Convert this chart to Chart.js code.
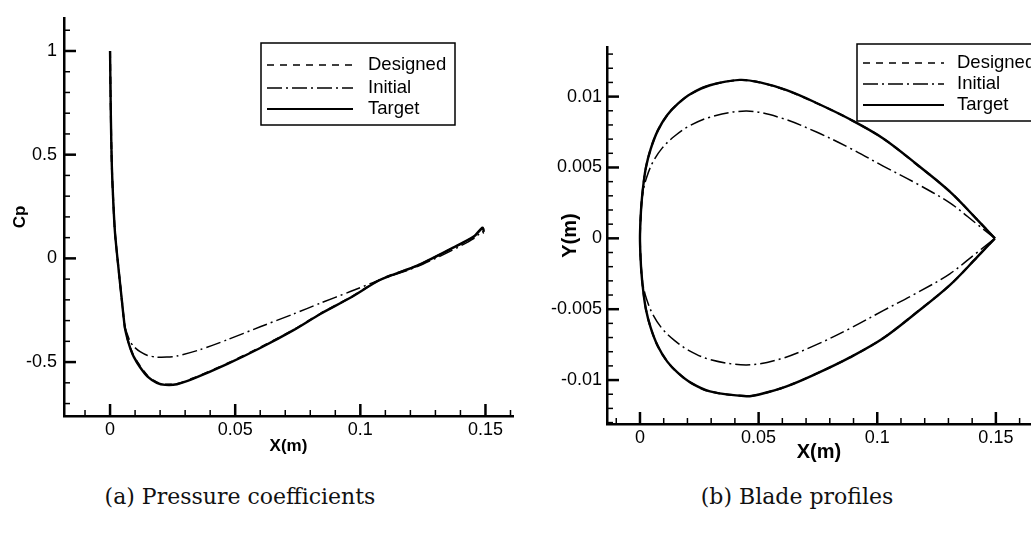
<!DOCTYPE html>
<html>
<head>
<meta charset="utf-8">
<script src="https://cdn.jsdelivr.net/npm/chart.js@4.4.0/dist/chart.umd.min.js"></script>
<style>
  body { margin: 0; background: #fff; width: 1031px; height: 539px; overflow: hidden; position: relative; }
  #cpChart { position: absolute; left: 0; top: 0; }
  #bladeChart { position: absolute; left: 530px; top: 0; }
  .caption { position: absolute; top: 484px; font-family: "DejaVu Serif", "Liberation Serif", serif; font-size: 22px; color: #111; transform: translateX(-50%); white-space: nowrap; }
</style>
</head>
<body>
<canvas id="cpChart" width="520" height="470"></canvas>
<canvas id="bladeChart" width="501" height="470"></canvas>
<div class="caption" style="left:240px">(a) Pressure coefficients</div>
<div class="caption" style="left:797px">(b) Blade profiles</div>
<script>
// series names (legend order)
const seriesNames = ['Designed', 'Initial', 'Target'];

// (a) pressure coefficient along the chord
const cpTargetX   = [0, 0.0003, 0.0007, 0.0013, 0.002, 0.0033, 0.0047, 0.0053, 0.006, 0.007, 0.008, 0.0095, 0.012, 0.015, 0.0187, 0.022, 0.0267, 0.0333, 0.0467, 0.06, 0.0733, 0.084, 0.096, 0.108, 0.1227, 0.136, 0.1453, 0.1487, 0.1492, 0.1493];
const cpTargetY   = [1.0, 0.70, 0.45, 0.27, 0.12, -0.04, -0.20, -0.27, -0.34, -0.39, -0.43, -0.475, -0.525, -0.57, -0.60, -0.61, -0.607, -0.58, -0.51, -0.432, -0.346, -0.268, -0.19, -0.103, -0.035, 0.045, 0.105, 0.148, 0.14, 0.128];
const cpDesignedX = [0, 0.0003, 0.0007, 0.0013, 0.002, 0.0033, 0.0047, 0.0053, 0.006, 0.007, 0.008, 0.0095, 0.012, 0.015, 0.0187, 0.022, 0.0267, 0.0333, 0.0467, 0.06, 0.0733, 0.084, 0.096, 0.108, 0.1227, 0.136, 0.1453, 0.1487, 0.1492, 0.1493];
const cpDesignedY = [1.0, 0.70, 0.45, 0.27, 0.12, -0.04, -0.20, -0.27, -0.34, -0.39, -0.43, -0.473, -0.52, -0.567, -0.598, -0.608, -0.605, -0.578, -0.508, -0.43, -0.345, -0.267, -0.189, -0.102, -0.035, 0.044, 0.104, 0.146, 0.138, 0.126];
const cpInitialX  = [0, 0.0003, 0.0007, 0.0013, 0.002, 0.0033, 0.0047, 0.0053, 0.006, 0.007, 0.008, 0.0095, 0.012, 0.015, 0.0187, 0.0227, 0.0267, 0.036, 0.0467, 0.06, 0.0733, 0.084, 0.096, 0.108, 0.1227, 0.136, 0.1453, 0.1487, 0.1493];
const cpInitialY  = [1.0, 0.70, 0.45, 0.27, 0.12, -0.04, -0.20, -0.27, -0.33, -0.37, -0.40, -0.425, -0.45, -0.468, -0.476, -0.476, -0.471, -0.44, -0.393, -0.33, -0.268, -0.216, -0.16, -0.103, -0.04, 0.035, 0.095, 0.13, 0.12];

// (b) blade profiles, upper and lower surfaces from leading to trailing edge
const targetUpX   = [0, 0.0002, 0.0006, 0.0013, 0.0025, 0.0045, 0.0075, 0.0115, 0.016, 0.0215, 0.0295, 0.0421, 0.0506, 0.0618, 0.0744, 0.0885, 0.1025, 0.1166, 0.1306, 0.1419, 0.1496];
const targetUpY   = [0, 0.0012, 0.0024, 0.0036, 0.0050, 0.0063, 0.0076, 0.0087, 0.0095, 0.0102, 0.0108, 0.01118, 0.0110, 0.01045, 0.00955, 0.0084, 0.00705, 0.00523, 0.0033, 0.00136, 0];
const targetLoX   = [0, 0.0002, 0.0006, 0.0013, 0.0025, 0.0045, 0.0075, 0.0115, 0.016, 0.0215, 0.0295, 0.0449, 0.0506, 0.0618, 0.0744, 0.0885, 0.1025, 0.1166, 0.1306, 0.1419, 0.1496];
const targetLoY   = [0, -0.0012, -0.0024, -0.0036, -0.0050, -0.0063, -0.0076, -0.0087, -0.0095, -0.0102, -0.0108, -0.01114, -0.0110, -0.01045, -0.00955, -0.0084, -0.00705, -0.00523, -0.0033, -0.00136, 0];
const designedUpX = [0, 0.0002, 0.0006, 0.0013, 0.0025, 0.0045, 0.0075, 0.0115, 0.016, 0.0215, 0.0295, 0.0421, 0.0506, 0.0618, 0.0744, 0.0885, 0.1025, 0.1166, 0.1306, 0.1419, 0.1496];
const designedUpY = [0, 0.0012, 0.0024, 0.0036, 0.0050, 0.0063, 0.0076, 0.0087, 0.0095, 0.0102, 0.0108, 0.01117, 0.0110, 0.01044, 0.00954, 0.0084, 0.00704, 0.00522, 0.0033, 0.00136, 0];
const designedLoX = [0, 0.0002, 0.0006, 0.0013, 0.0025, 0.0045, 0.0075, 0.0115, 0.016, 0.0215, 0.0295, 0.0449, 0.0506, 0.0618, 0.0744, 0.0885, 0.1025, 0.1166, 0.1306, 0.1419, 0.1496];
const designedLoY = [0, -0.0012, -0.0024, -0.0036, -0.0050, -0.0063, -0.0076, -0.0087, -0.0095, -0.0102, -0.0108, -0.01113, -0.0110, -0.01044, -0.00954, -0.0084, -0.00704, -0.00522, -0.0033, -0.00136, 0];
const initialUpX  = [0, 0.0002, 0.0006, 0.0013, 0.0028, 0.0055, 0.0095, 0.0145, 0.0205, 0.0295, 0.0449, 0.059, 0.0744, 0.0885, 0.1025, 0.1166, 0.1306, 0.1419, 0.1496];
const initialUpY  = [0, 0.0012, 0.0023, 0.0033, 0.0043, 0.0054, 0.0064, 0.0072, 0.0079, 0.00855, 0.00898, 0.00852, 0.0075, 0.00636, 0.0051, 0.00386, 0.0025, 0.00102, 0];
const initialLoX  = [0, 0.0002, 0.0006, 0.0013, 0.0028, 0.0055, 0.0095, 0.0145, 0.0205, 0.0295, 0.0449, 0.059, 0.0744, 0.0885, 0.1025, 0.1166, 0.1306, 0.1419, 0.1496];
const initialLoY  = [0, -0.0012, -0.0023, -0.0033, -0.0043, -0.0054, -0.0064, -0.0072, -0.0079, -0.00855, -0.00893, -0.00852, -0.0075, -0.00636, -0.0051, -0.00386, -0.0025, -0.00102, 0];

// line styles per series
const lineDash  = { Designed: [7, 6], Initial: [15, 4, 2, 4], Target: [] };
const lineWidth = { Designed: 2, Initial: 1.5, Target: 2.4 };

Chart.defaults.font.family = '"Liberation Sans", Arial, Helvetica, sans-serif';
Chart.defaults.color = '#000';

function pts(xs, ys) {
  return xs.map((x, i) => ({ x: x, y: ys[i] }));
}
// closed profile: trailing edge -> upper -> leading edge -> lower -> trailing edge
function loop(upX, upY, loX, loY) {
  return pts(upX, upY).reverse().concat(pts(loX, loY).slice(1));
}

function ds(name, data, tension) {
  return {
    label: name, data: data, showLine: true, pointRadius: 0,
    borderColor: '#000', borderWidth: lineWidth[name], borderDash: lineDash[name],
    tension: tension, fill: false
  };
}

// tecplot-like inward ticks
const innerTicks = {
  id: 'innerTicks',
  afterDraw(chart, args, opts) {
    const ctx = chart.ctx, a = chart.chartArea;
    const xs = chart.scales.x, ys = chart.scales.y;
    ctx.save();
    ctx.strokeStyle = '#000';
    for (let i = Math.ceil(xs.min / opts.xMinor - 1e-9); i * opts.xMinor <= xs.max + 1e-12; i++) {
      const major = i % opts.xEvery === 0;
      const px = xs.getPixelForValue(i * opts.xMinor);
      ctx.lineWidth = major ? 2.5 : 1.5;
      ctx.beginPath(); ctx.moveTo(px, a.bottom); ctx.lineTo(px, a.bottom - (major ? 12 : 6)); ctx.stroke();
    }
    for (let i = Math.ceil(ys.min / opts.yMinor - 1e-9); i * opts.yMinor <= ys.max + 1e-12; i++) {
      const major = i % opts.yEvery === 0;
      const py = ys.getPixelForValue(i * opts.yMinor);
      ctx.lineWidth = major ? 2.5 : 1.5;
      ctx.beginPath(); ctx.moveTo(a.left, py); ctx.lineTo(a.left + (major ? 12 : 6), py); ctx.stroke();
    }
    ctx.restore();
  }
};

// boxed legend inside the plot
const boxLegend = {
  id: 'boxLegend',
  afterDraw(chart, args, opts) {
    const ctx = chart.ctx;
    ctx.save();
    ctx.fillStyle = '#fff';
    ctx.fillRect(opts.x, opts.y, opts.w, opts.h);
    ctx.strokeStyle = '#000';
    ctx.lineWidth = 1.5;
    ctx.strokeRect(opts.x, opts.y, opts.w, opts.h);
    ctx.font = opts.font;
    ctx.fillStyle = '#000';
    ctx.textBaseline = 'middle';
    seriesNames.forEach((name, i) => {
      const y = opts.y + opts.rows[i];
      ctx.setLineDash(lineDash[name]);
      ctx.lineWidth = name === 'Target' ? 2 : 1.5;
      ctx.beginPath(); ctx.moveTo(opts.x + 6, y); ctx.lineTo(opts.x + opts.lineLen, y); ctx.stroke();
      ctx.setLineDash([]);
      ctx.fillText(name, opts.x + opts.textX, y);
    });
    ctx.restore();
  }
};

function fmt(v) { return String(Number(v.toFixed(4))); }

function axes(o) {
  return {
    x: {
      type: 'linear', min: o.xMin, max: o.xMax,
      grid: { display: false, drawTicks: false },
      border: { display: true, color: '#000', width: 2.5 },
      ticks: { stepSize: 0.05, includeBounds: false, padding: o.xPad, font: { size: o.tickSize }, callback: fmt, maxRotation: 0 },
      title: { display: true, text: 'X(m)', font: { size: o.titleSize, weight: 'bold' }, padding: { top: 0, bottom: o.xTitlePad } },
      afterFit: s => { s.height = o.xHeight; }
    },
    y: {
      type: 'linear', min: o.yMin, max: o.yMax,
      grid: { display: false, drawTicks: false },
      border: { display: true, color: '#000', width: 2.5 },
      ticks: { stepSize: o.yStep, includeBounds: false, padding: o.yPad, font: { size: o.tickSize }, callback: fmt },
      title: { display: true, text: o.yTitle, font: { size: o.titleSize, weight: 'bold' }, padding: { top: o.yTitlePad, bottom: 0 } },
      afterFit: s => { s.width = o.yWidth; }
    }
  };
}

new Chart(document.getElementById('cpChart'), {
  type: 'scatter',
  data: {
    datasets: [
      ds('Initial', pts(cpInitialX, cpInitialY), 0.25),
      ds('Designed', pts(cpDesignedX, cpDesignedY), 0.25),
      ds('Target', pts(cpTargetX, cpTargetY), 0.25)
    ]
  },
  options: {
    responsive: false, animation: false,
    layout: { padding: { top: 13, right: 7, left: 0, bottom: 0 } },
    scales: axes({ xMin: -0.0184, xMax: 0.161, yMin: -0.76, yMax: 1.16, yStep: 0.5, yTitle: 'Cp',
      tickSize: 18, titleSize: 17, xPad: 3, xHeight: 54, xTitlePad: 13, yPad: 7, yWidth: 64, yTitlePad: 10 }),
    plugins: {
      legend: { display: false }, tooltip: { enabled: false },
      innerTicks: { xMinor: 0.01, xEvery: 5, yMinor: 0.1, yEvery: 5 },
      boxLegend: { x: 261, y: 43, w: 194, h: 82, rows: [22, 45, 66], lineLen: 92, textX: 107, font: '18.5px "Liberation Sans", Arial, sans-serif' }
    }
  },
  plugins: [innerTicks, boxLegend]
});

new Chart(document.getElementById('bladeChart'), {
  type: 'scatter',
  data: {
    datasets: [
      ds('Initial', loop(initialUpX, initialUpY, initialLoX, initialLoY), 0.35),
      ds('Designed', loop(designedUpX, designedUpY, designedLoX, designedLoY), 0.35),
      ds('Target', loop(targetUpX, targetUpY, targetLoX, targetLoY), 0.35)
    ]
  },
  options: {
    responsive: false, animation: false,
    layout: { padding: { top: 47, right: 0, left: 0, bottom: 0 } },
    scales: axes({ xMin: -0.0139, xMax: 0.1648, yMin: -0.0131, yMax: 0.0135, yStep: 0.005, yTitle: 'Y(m)',
      tickSize: 18, titleSize: 20, xPad: 3, xHeight: 46, xTitlePad: 6, yPad: 5, yWidth: 77, yTitlePad: 28 }),
    plugins: {
      legend: { display: false }, tooltip: { enabled: false },
      innerTicks: { xMinor: 0.01, xEvery: 5, yMinor: 0.001, yEvery: 5 },
      boxLegend: { x: 327, y: 44, w: 190, h: 77, rows: [19, 40, 61], lineLen: 87, textX: 100, font: '18.5px "Liberation Sans", Arial, sans-serif' }
    }
  },
  plugins: [innerTicks, boxLegend]
});
</script>
</body>
</html>
